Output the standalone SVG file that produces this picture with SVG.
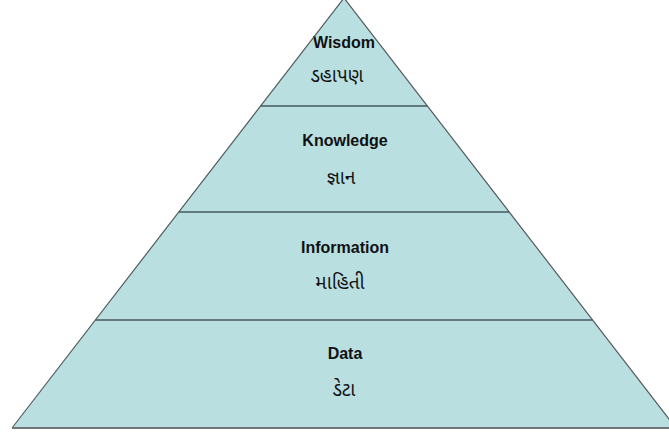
<svg xmlns="http://www.w3.org/2000/svg" width="669" height="434" viewBox="0 0 669 434">
<style>
.tier{fill:#b9dfe1;stroke:none}
.edge{fill:none;stroke:#555b5d;stroke-width:1.2}
.div{stroke:#44595c;stroke-width:1.6}
.base{stroke:#6e7679;stroke-width:2.2}
.en{font-family:"Liberation Sans",Arial,sans-serif;font-weight:bold;font-size:16px;fill:#111;text-anchor:middle}
.gu{font-family:"Noto Sans Gujarati","Noto Sans","DejaVu Sans",sans-serif;font-size:19px;fill:#111;text-anchor:middle}
</style>
<rect width="669" height="434" fill="#fff"/>
<g id="wisdom">
<polygon class="tier" points="344,-2 427.4,106 260.6,106"/>
<text class="en" x="344" y="48">Wisdom</text>
<text class="gu" x="337" y="82">ડહાપણ</text>
</g>
<g id="knowledge">
<polygon class="tier" points="260.6,106 427.4,106 509.2,212 178.8,212"/>
<text class="en" x="345" y="146">Knowledge</text>
<text class="gu" x="341" y="184">જ્ઞાન</text>
</g>
<g id="information">
<polygon class="tier" points="178.8,212 509.2,212 592.6,320 95.4,320"/>
<text class="en" x="345" y="253">Information</text>
<text class="gu" x="340" y="289">માહિતી</text>
</g>
<g id="data">
<polygon class="tier" points="95.4,320 592.6,320 676,428 12,428"/>
<text class="en" x="345" y="359">Data</text>
<text class="gu" x="344" y="396">ડેટા</text>
</g>
<g id="connectors">
<polyline class="edge" points="12,428 344,-2 676,428"/>
<line class="div" x1="260.6" y1="106" x2="427.4" y2="106"/>
<line class="div" x1="178.8" y1="212" x2="509.2" y2="212"/>
<line class="div" x1="95.4" y1="320" x2="592.6" y2="320"/>
<line class="base" x1="12" y1="428" x2="676" y2="428"/>
</g>
</svg>
